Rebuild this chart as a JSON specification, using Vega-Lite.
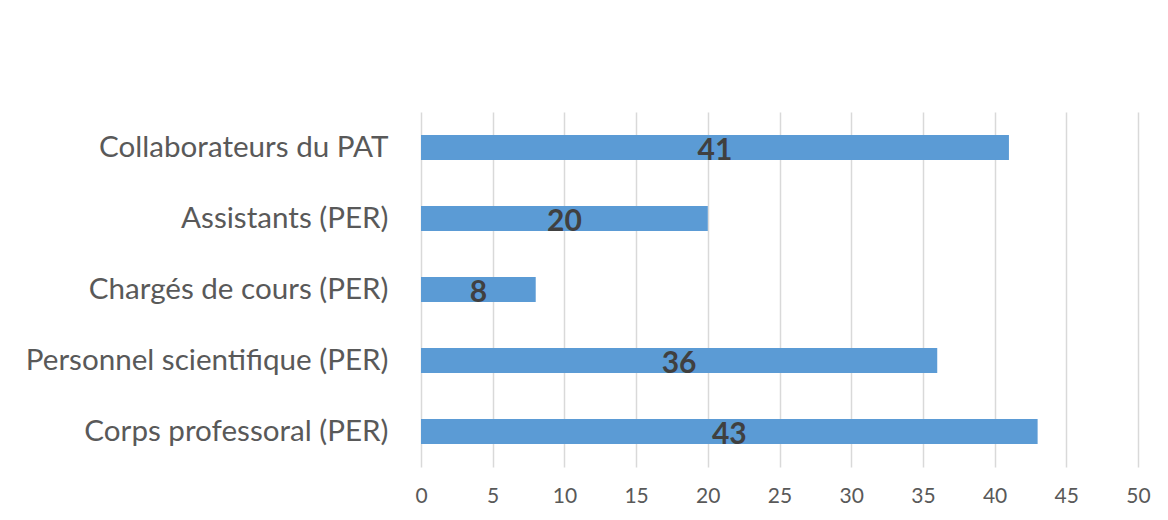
{
  "$schema": "https://vega.github.io/schema/vega-lite/v6.json",
  "autosize": "none",
  "width": 717,
  "height": 355,
  "padding": {"left": 421, "top": 112, "right": 30, "bottom": 53},
  "background": "white",
  "config": {"view": {"stroke": null}},
  "data": {
    "values": [
      {"categorie": "Collaborateurs du PAT", "effectif": 41},
      {"categorie": "Assistants (PER)", "effectif": 20},
      {"categorie": "Chargés de cours (PER)", "effectif": 8},
      {"categorie": "Personnel scientifique (PER)", "effectif": 36},
      {"categorie": "Corps professoral (PER)", "effectif": 43}
    ]
  },
  "encoding": {
    "y": {
      "field": "categorie",
      "type": "nominal",
      "sort": null,
      "title": null,
      "scale": {"paddingInner": 0.648, "paddingOuter": 0.324},
      "axis": {
        "domain": false,
        "ticks": false,
        "grid": false,
        "labelFont": "Lato",
        "labelFontSize": 29.6,
        "labelColor": "#595959",
        "labelPadding": 33,
        "labelLimit": 420
      }
    }
  },
  "layer": [
    {
      "mark": {"type": "bar", "color": "#5b9bd5"},
      "encoding": {
        "x": {
          "field": "effectif",
          "type": "quantitative",
          "title": null,
          "scale": {"domain": [0, 50], "nice": false},
          "axis": {
            "values": [0, 5, 10, 15, 20, 25, 30, 35, 40, 45, 50],
            "domain": false,
            "ticks": false,
            "grid": true,
            "gridColor": "#d9d9d9",
            "gridWidth": 1.5,
            "labelFont": "Lato",
            "labelFontSize": 21,
            "labelColor": "#595959",
            "labelPadding": 18,
            "labelFlush": false
          }
        }
      }
    },
    {
      "transform": [{"calculate": "datum.effectif / 2", "as": "milieu"}],
      "mark": {
        "type": "text",
        "font": "Lato",
        "fontSize": 30,
        "fontWeight": "bold",
        "color": "#404040",
        "baseline": "middle",
        "dy": 3
      },
      "encoding": {
        "x": {"field": "milieu", "type": "quantitative"},
        "text": {"field": "effectif", "type": "quantitative"}
      }
    }
  ]
}
